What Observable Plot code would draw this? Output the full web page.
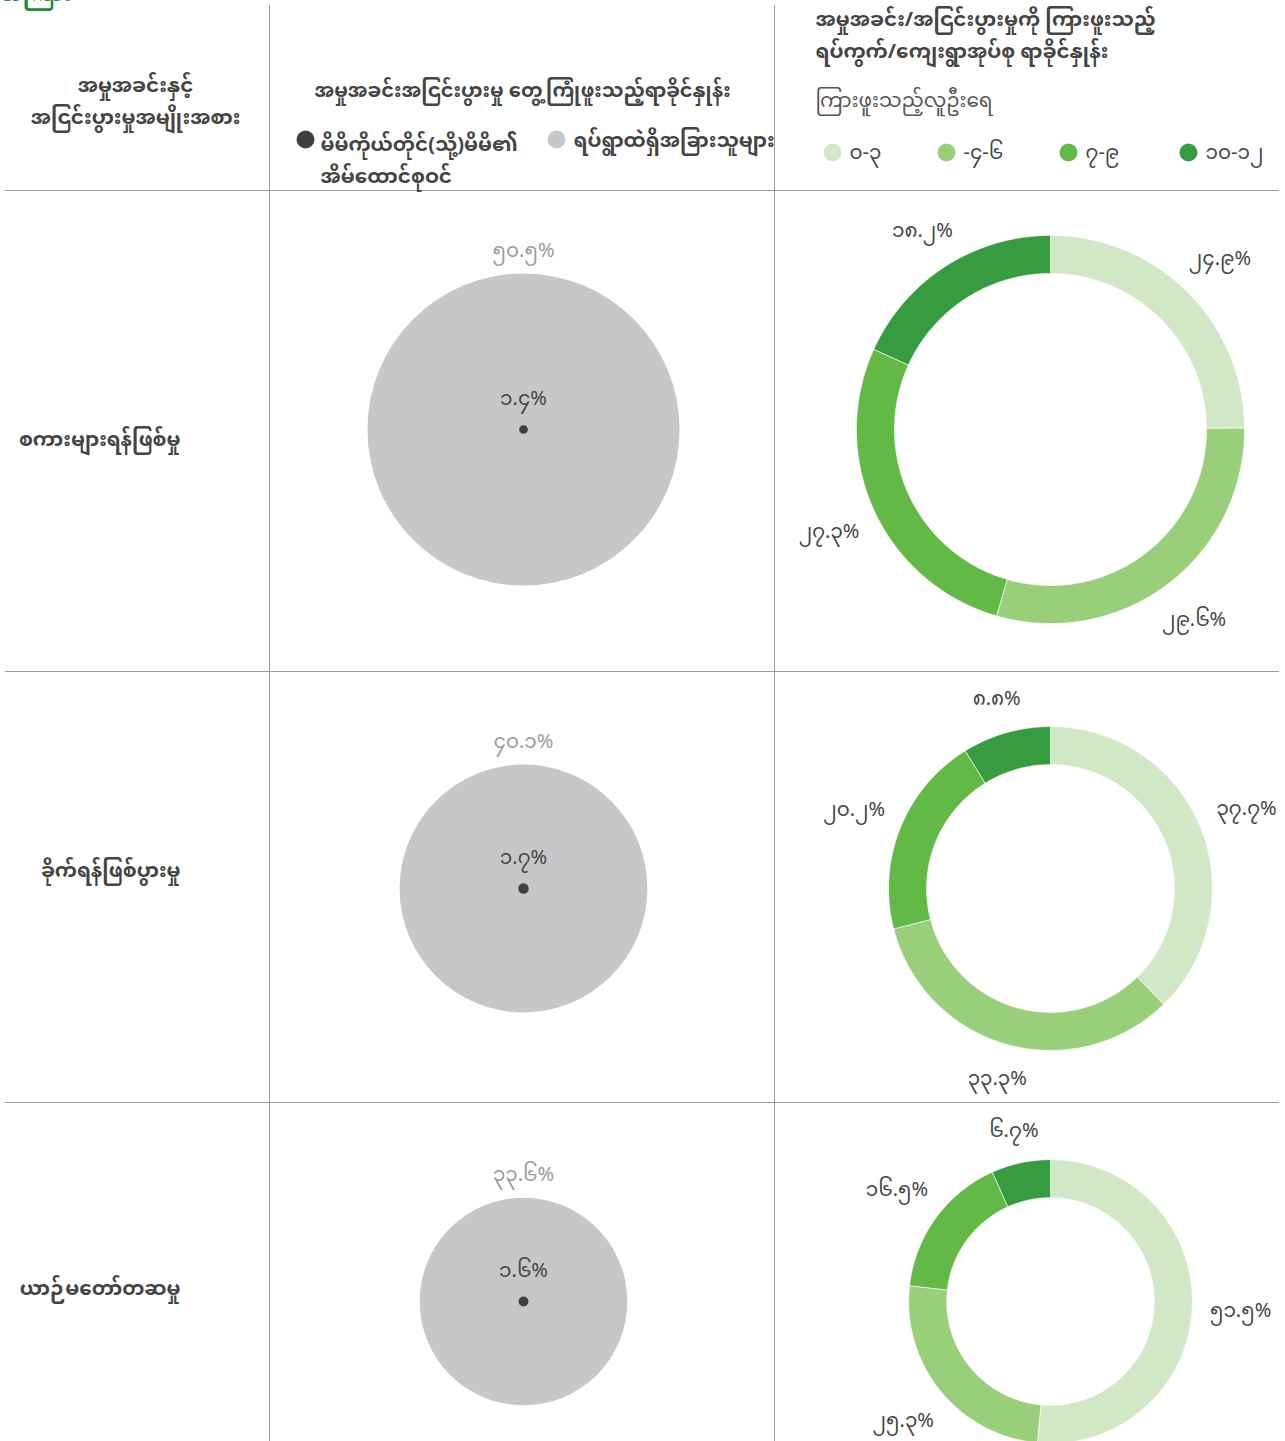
<!DOCTYPE html>
<html>
<head>
<meta charset="utf-8">
<script src="https://cdn.jsdelivr.net/npm/d3@7"></script>
<script src="https://cdn.jsdelivr.net/npm/@observablehq/plot@0.6"></script>
<style>
  html, body { margin: 0; padding: 0; background: #fff; }
  #chart svg { display: block; }
</style>
</head>
<body>
<div id="chart"></div>
<script>
// ---------- data ----------
const categories = ["စကားများရန်ဖြစ်မှု", "ခိုက်ရန်ဖြစ်ပွားမှု", "ယာဉ်မတော်တဆမှု"];
// % who experienced the case/dispute
const selfOrHousehold = [1.4, 1.7, 1.6];          // self or own household member
const othersInCommunity = [50.5, 40.1, 33.6];     // others in the community
// % of wards/village tracts that heard of it, by number of people who heard
const heardGroups = ["၀-၃", "-၄-၆", "၇-၉", "၁၀-၁၂"];
const heard0to3 = [24.9, 37.7, 51.5];
const heard4to6 = [29.6, 33.3, 25.3];
const heard7to9 = [27.3, 20.2, 16.5];
const heard10to12 = [18.2, 8.8, 6.7];

// ---------- texts ----------
const cutTitle = "အကြား";
const titleCol1 = "အမှုအခင်းနှင့်\nအငြင်းပွားမှုအမျိုးအစား";
const titleCol2 = "အမှုအခင်းအငြင်းပွားမှု တွေ့ကြုံဖူးသည့်ရာခိုင်နှုန်း";
const legendSelf = "မိမိကိုယ်တိုင်(သို့)မိမိ၏\nအိမ်ထောင်စုဝင်";
const legendOthers = "ရပ်ရွာထဲရှိအခြားသူများ";
const titleCol3 = "အမှုအခင်း/အငြင်းပွားမှုကို ကြားဖူးသည့်\nရပ်ကွက်/ကျေးရွာအုပ်စု ရာခိုင်နှုန်း";
const legendTitle3 = "ကြားဖူးသည့်လူဦးရေ";

// ---------- layout / style ----------
const W = 1285, H = 1441;
const greens = ["#d1e8c6", "#99ce7a", "#62b946", "#379b3f"];
const grayFill = "#c6c7c9", darkFill = "#3f3f3f", textColor = "#444";
const rowY = [429, 888, 1301];
const pieX = 523, donutX = 1050, ringWidth = 38;
const font = "'Noto Sans', 'Noto Sans Myanmar', Padauk, sans-serif";

const myDigits = "၀၁၂၃၄၅၆၇၈၉";
const fmt = v => v.toFixed(1).replace(/\d/g, d => myDigits[+d]) + "%";

const rOpts = {type: "linear", domain: [0, 100], range: [0, 309]};
const rScale = Plot.scale({r: rOpts});

const rows = categories.map((c, i) => ({
  cat: c, i, cy: rowY[i],
  self: selfOrHousehold[i], others: othersInCommunity[i],
  rOthers: rScale.apply(othersInCommunity[i])
}));

// donut polygons computed from the shares
const groupVals = [heard0to3, heard4to6, heard7to9, heard10to12];
const arcPts = [];
const arcLabels = [];
rows.forEach(row => {
  const r0 = row.rOthers, r1 = r0 + ringWidth;
  const total = d3.sum(groupVals, g => g[row.i]);
  let cum = 0;
  heardGroups.forEach((g, j) => {
    const v = groupVals[j][row.i];
    const a0 = cum / total * 2 * Math.PI;
    cum += v;
    const a1 = cum / total * 2 * Math.PI;
    const n = Math.max(2, Math.ceil((a1 - a0) / (Math.PI / 180)));
    const key = row.i + "-" + j;
    const pt = (a, r) => ({key, group: g, x: donutX + r * Math.sin(a), y: row.cy - r * Math.cos(a)});
    for (let k = 0; k <= n; k++) arcPts.push(pt(a0 + (a1 - a0) * k / n, r1));
    for (let k = n; k >= 0; k--) arcPts.push(pt(a0 + (a1 - a0) * k / n, r0));
    const am = (a0 + a1) / 2;
    const rl = r1 + 16 + Math.abs(Math.sin(am)) * 32 + Math.abs(Math.cos(am)) * 11;
    arcLabels.push({text: fmt(v), x: donutX + rl * Math.sin(am), y: row.cy - rl * Math.cos(am)});
  });
});

const legendXs = [832, 946, 1068, 1188];

const chart = Plot.plot({
  width: W, height: H, margin: 0,
  x: {domain: [0, W], range: [0, W], axis: null},
  y: {domain: [0, H], range: [0, H], axis: null},
  r: rOpts,
  color: {domain: heardGroups, range: greens},
  style: {fontFamily: font, background: "#fff"},
  marks: [
    // title running off the top edge, as in the source
    Plot.text([cutTitle], {x: 0, y: 0, text: d => d, textAnchor: "start", lineAnchor: "bottom", fontSize: 22, fontWeight: "bold", fill: "#1f8a3b"}),
    // grid
    Plot.ruleX([269, 774], {y1: 5, y2: H, stroke: "#9b9b9b", strokeWidth: 1}),
    Plot.ruleY([190, 671, 1102], {x1: 5, x2: 1279, stroke: "#9b9b9b", strokeWidth: 1}),
    // column 1 header + row labels
    Plot.text([titleCol1], {x: 135, y: 97, text: d => d, fontSize: 20, fontWeight: "bold", fill: textColor, lineHeight: 1.6}),
    Plot.text(rows, {x: 180, y: d => d.cy + (d.i === 0 ? 10 : d.i === 1 ? -18 : -13), text: "cat", textAnchor: "end", fontSize: 20, fontWeight: "bold", fill: textColor}),
    // column 2 header & legend
    Plot.text([titleCol2], {x: 522, y: 90, text: d => d, fontSize: 19.5, fontWeight: "bold", fill: textColor}),
    Plot.dot([0], {x: 305, y: 139, r: 9, fill: darkFill}),
    Plot.text([legendSelf], {x: 320, y: 156, text: d => d, textAnchor: "start", fontSize: 20, fontWeight: "bold", fill: textColor, lineHeight: 1.6}),
    Plot.dot([0], {x: 556, y: 139, r: 9, fill: grayFill}),
    Plot.text([legendOthers], {x: 573, y: 140, text: d => d, textAnchor: "start", fontSize: 20, fontWeight: "bold", fill: textColor}),
    // column 3 header & legend
    Plot.text([titleCol3], {x: 815, y: 31, text: d => d, textAnchor: "start", fontSize: 20, fontWeight: "bold", fill: textColor, lineHeight: 1.6}),
    Plot.text([legendTitle3], {x: 815, y: 100, text: d => d, textAnchor: "start", fontSize: 20, fill: "#555"}),
    Plot.dot(heardGroups, {x: (d, i) => legendXs[i], y: 152, r: 9, fill: d => d}),
    Plot.text(heardGroups, {x: (d, i) => legendXs[i] + 17, y: 152, text: d => d, textAnchor: "start", fontSize: 20, fill: textColor}),
    // proportional circles
    Plot.dot(rows, {x: () => pieX, y: "cy", r: "others", fill: grayFill}),
    Plot.dot(rows, {x: () => pieX, y: "cy", r: "self", fill: darkFill}),
    Plot.text(rows, {x: () => pieX, y: d => d.cy - d.rOthers - 23, text: d => fmt(d.others), fontSize: 20, fill: "#9a9a9a"}),
    Plot.text(rows, {x: () => pieX, y: d => d.cy - 31, text: d => fmt(d.self), fontSize: 20, fill: textColor}),
    // donuts
    Plot.line(arcPts, {x: "x", y: "y", z: "key", fill: "group", stroke: "white", strokeWidth: 0.6, curve: "linear-closed"}),
    Plot.text(arcLabels, {x: "x", y: "y", text: "text", fontSize: 20, fill: textColor})
  ]
});

document.getElementById("chart").appendChild(chart);
</script>
</body>
</html>
